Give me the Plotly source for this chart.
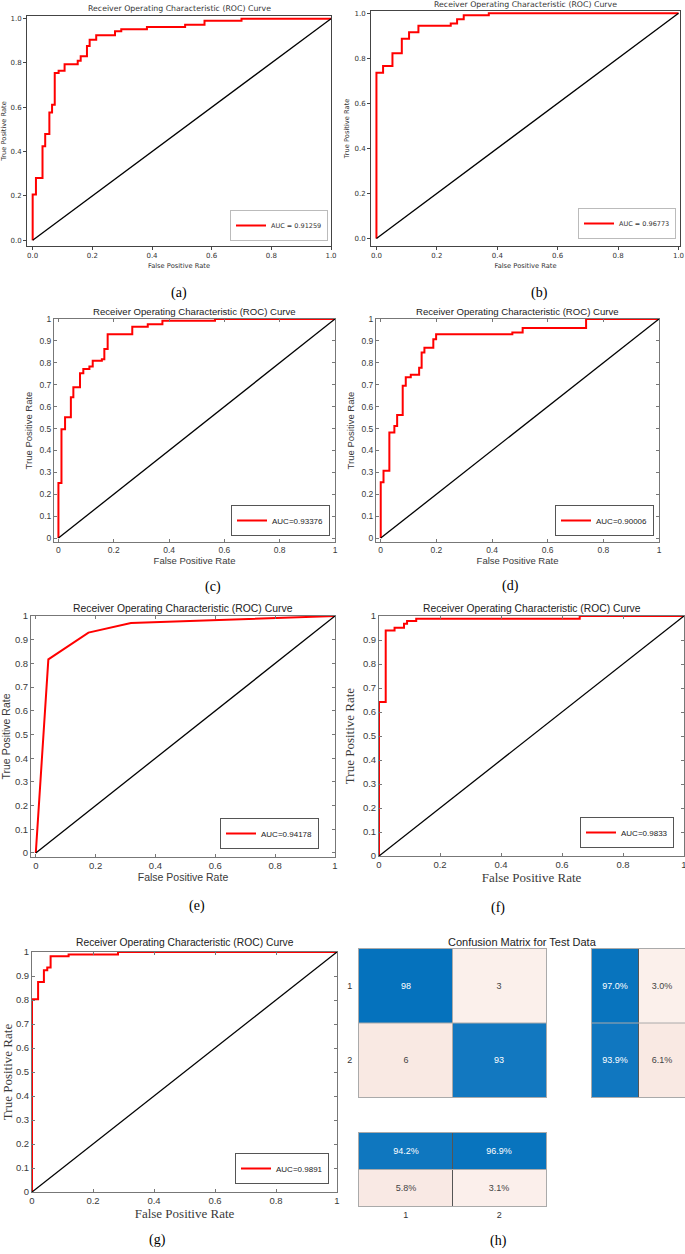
import plotly.graph_objects as go

W, H = 685, 1254

# ROC curves: false positive rate / true positive rate
fpr_a = [0, 0, 0.011, 0.033, 0.042, 0.056, 0.065, 0.074, 0.087, 0.107, 0.151, 0.161,
         0.182, 0.191, 0.213, 0.276, 0.297, 0.383, 0.511, 0.576, 0.70, 1.0]
tpr_a = [0, 0.206, 0.281, 0.424, 0.48, 0.576, 0.612, 0.755, 0.765, 0.794, 0.81, 0.83,
         0.877, 0.905, 0.925, 0.943, 0.952, 0.962, 0.973, 0.99, 1.0, 1.0]

fpr_b = [0, 0, 0.022, 0.053, 0.084, 0.108, 0.139, 0.246, 0.267, 0.289, 0.372, 1.0]
tpr_b = [0, 0.736, 0.766, 0.822, 0.887, 0.916, 0.944, 0.954, 0.973, 0.991, 1.0, 1.0]

fpr_c = [0, 0, 0.011, 0.024, 0.045, 0.054, 0.078, 0.09, 0.112, 0.124, 0.157, 0.166,
         0.178, 0.267, 0.323, 0.376, 0.566, 1.0]
tpr_c = [0, 0.251, 0.497, 0.552, 0.643, 0.688, 0.752, 0.772, 0.783, 0.809, 0.816, 0.863,
         0.930, 0.965, 0.976, 0.992, 1.0, 1.0]

fpr_d = [0, 0, 0.01, 0.031, 0.049, 0.059, 0.079, 0.09, 0.108, 0.138, 0.147, 0.157,
         0.189, 0.199, 0.473, 0.51, 0.738, 1.0]
tpr_d = [0, 0.255, 0.307, 0.482, 0.512, 0.562, 0.695, 0.734, 0.746, 0.778, 0.847, 0.869,
         0.907, 0.930, 0.938, 0.959, 1.0, 1.0]

fpr_e = [0, 0.042, 0.176, 0.318, 1.0]
tpr_e = [0, 0.817, 0.93, 0.97, 1.0]

fpr_f = [0, 0, 0.022, 0.051, 0.082, 0.092, 0.122, 0.658, 1.0]
tpr_f = [0, 0.642, 0.94, 0.951, 0.968, 0.979, 0.989, 1.0, 1.0]

fpr_g = [0, 0, 0.02, 0.039, 0.05, 0.061, 0.12, 0.282, 1.0]
tpr_g = [0, 0.803, 0.875, 0.924, 0.935, 0.982, 0.99, 1.0, 1.0]

auc_labels = ["AUC = 0.91259", "AUC = 0.96773", "AUC=0.93376", "AUC=0.90006",
              "AUC=0.94178", "AUC=0.9833", "AUC=0.9891"]
chance = [0, 1]

# confusion matrix for the test data, panel (h)
classes = ["1", "2"]
cm_counts = [[98, 3], [6, 93]]
cm_row_pct = [[97.0, 3.0], [93.9, 6.1]]
cm_col_pct = [[94.2, 96.9], [5.8, 3.1]]

panel_letters = ["(a)", "(b)", "(c)", "(d)", "(e)", "(f)", "(g)", "(h)"]

MPL = "DejaVu Sans"
SANS = "Liberation Sans, Arial, sans-serif"
SERIF = "Liberation Serif, Times New Roman, serif"
ROC_TITLE = "Receiver Operating Characteristic (ROC) Curve"


def xdom(left, right):
    return [left / W, min(right / W, 1.0)]


def ydom(top, bottom):
    return [1 - bottom / H, 1 - top / H]


# box = (left, top, right, bottom) in pixels
panels = [
    dict(fpr=fpr_a, tpr=tpr_a, shape="hv", style="mpl", box=(27, 16, 331, 246),
         xr=[-0.019, 1.0], yr=[-0.026, 1.012], title_y=9, leg=(328, 241)),
    dict(fpr=fpr_b, tpr=tpr_b, shape="hv", style="mpl", box=(371, 11, 680, 246),
         xr=[-0.018, 1.005], yr=[-0.033, 1.01], title_y=4.5, leg=(676, 239)),
    dict(fpr=fpr_c, tpr=tpr_c, shape="hv", style="matlab", box=(54, 319, 335, 542),
         xr=[-0.016, 1], yr=[-0.018, 1], title_y=312, leg=(330, 536), fs=8.5, tfs=9.6),
    dict(fpr=fpr_d, tpr=tpr_d, shape="hv", style="matlab", box=(376, 319, 659, 542),
         xr=[-0.017, 1], yr=[-0.018, 1], title_y=312, leg=(654, 536), fs=8.5, tfs=9.6),
    dict(fpr=fpr_e, tpr=tpr_e, shape="linear", style="matlab", box=(31, 616, 335, 857),
         xr=[-0.016, 1], yr=[-0.017, 1], title_y=608, leg=(319, 849), fs=9.5, tfs=10.4),
    dict(fpr=fpr_f, tpr=tpr_f, shape="hv", style="serif", box=(379, 616, 684, 856),
         xr=[0, 1], yr=[0, 1], title_y=608, leg=(674, 848), fs=9.5, tfs=10.3),
    dict(fpr=fpr_g, tpr=tpr_g, shape="hv", style="serif", box=(32, 952, 337, 1192),
         xr=[0, 1], yr=[0, 1], title_y=943, leg=(329, 1184), fs=9.5, tfs=10.3),
]

fig = go.Figure()
layout = {}
annotations = []

for i, p in enumerate(panels):
    n = i + 1
    sfx = "" if n == 1 else str(n)
    leg = "legend" + sfx
    fig.add_trace(go.Scatter(
        x=p["fpr"], y=p["tpr"], mode="lines", line=dict(color="#ff0000", width=2, shape=p["shape"]),
        name=auc_labels[i], xaxis="x" + sfx, yaxis="y" + sfx, legend=leg))
    fig.add_trace(go.Scatter(
        x=chance, y=chance, mode="lines", line=dict(color="black", width=1.3),
        showlegend=False, xaxis="x" + sfx, yaxis="y" + sfx))

    left, top, right, bottom = p["box"]
    if p["style"] == "mpl":
        tick_font = dict(family=MPL, size=7, color="#333")
        lab_font = dict(family=MPL, size=6.7, color="#333")
        common = dict(showline=True, linecolor="#444", linewidth=1, mirror=True,
                      ticks="outside", ticklen=3, tickwidth=0.8, tickcolor="#444",
                      tickvals=[0, 0.2, 0.4, 0.6, 0.8, 1.0], tickformat=".1f",
                      tickfont=tick_font, showgrid=False, zeroline=False,
                      ticklabeloverflow="allow")
        xax = dict(common, domain=xdom(left, right), range=p["xr"], anchor="y" + sfx,
                   title=dict(text="False Positive Rate", font=lab_font, standoff=3))
        yax = dict(common, domain=ydom(top, bottom), range=p["yr"], anchor="x" + sfx,
                   title=dict(text="True Positive Rate", font=lab_font, standoff=4))
        title_font = dict(family=MPL, size=7.8, color="#333")
        leg_font = dict(family=MPL, size=6.5, color="#333")
        leg_border = "#bbb"
    else:
        fs = p["fs"]
        tick_font = dict(family=SANS, size=fs, color="#3a3a3a")
        if p["style"] == "serif":
            lab_font = dict(family=SERIF, size=13, color="#3a3a3a")
        else:
            lab_font = dict(family=SANS, size=fs + 1, color="#3a3a3a")
        common = dict(showline=True, linecolor="#777", linewidth=1, mirror="ticks",
                      ticks="inside", ticklen=3, tickwidth=0.8, tickcolor="#777",
                      tickfont=tick_font, showgrid=False, zeroline=False,
                      ticklabeloverflow="allow")
        xax = dict(common, domain=xdom(left, right), range=p["xr"], anchor="y" + sfx,
                   tickvals=[0, 0.2, 0.4, 0.6, 0.8, 1],
                   title=dict(text="False Positive Rate", font=lab_font, standoff=3))
        yax = dict(common, domain=ydom(top, bottom), range=p["yr"], anchor="x" + sfx,
                   tick0=0, dtick=0.1,
                   title=dict(text="True Positive Rate", font=lab_font, standoff=5))
        title_font = dict(family=SANS, size=p["tfs"], color="#222")
        leg_font = dict(family=SANS, size=8, color="#222")
        leg_border = "#555"

    layout["xaxis" + sfx] = xax
    layout["yaxis" + sfx] = yax
    lx, ly = p["leg"]
    layout[leg] = dict(x=lx / W, y=1 - ly / H, xanchor="right", yanchor="bottom",
                       bgcolor="white", bordercolor=leg_border, borderwidth=1,
                       font=leg_font, itemwidth=30, tracegroupgap=0)
    annotations.append(dict(text=ROC_TITLE, x=(left + right) / 2 / W, y=1 - p["title_y"] / H,
                            xref="paper", yref="paper", xanchor="center", yanchor="middle",
                            showarrow=False, font=title_font))

# ---- panel (h): confusion matrix with row / column summaries ----
CM_SCALE = [[0.0, "#f0c8b8"], [0.47, "#f9e9e3"], [0.5, "#fdf6f3"],
            [0.5, "#d7e8f5"], [0.95, "#1a7cc2"], [1.0, "#0070bc"]]


def signed(values, diag_mask):
    return [[v if d else -v for v, d in zip(row, drow)] for row, drow in zip(values, diag_mask)]


cm_z = signed(cm_counts, [[True, False], [False, True]])
row_z = signed(cm_row_pct, [[True, False], [True, False]])
col_z = signed(cm_col_pct, [[True, True], [False, False]])

cm_panels = [
    ("8", cm_z, [[str(v) for v in r] for r in cm_counts], (359, 949, 546, 1097)),
    ("9", row_z, [[f"{v:.1f}%" for v in r] for r in cm_row_pct], (592, 949, 685, 1097)),
    ("10", col_z, [[f"{v:.1f}%" for v in r] for r in cm_col_pct], (359, 1133, 546, 1206)),
]
shapes = []
for sfx, z, txt, (left, top, right, bottom) in cm_panels:
    fig.add_trace(go.Heatmap(
        z=z, x=classes, y=classes, text=txt, texttemplate="%{text}",
        textfont=dict(family=SANS, size=9), colorscale=CM_SCALE, zmin=-100, zmax=100,
        showscale=False, xaxis="x" + sfx, yaxis="y" + sfx, hoverinfo="skip"))
    layout["xaxis" + sfx] = dict(domain=xdom(left, right), anchor="y" + sfx, type="category",
                                 showline=True, linecolor="#aaa", mirror=True, ticks="",
                                 showgrid=False, zeroline=False,
                                 showticklabels=(sfx == "10"),
                                 tickfont=dict(family=SANS, size=9, color="#333"))
    layout["yaxis" + sfx] = dict(domain=ydom(top, bottom), anchor="x" + sfx, type="category",
                                 autorange="reversed", showline=True, linecolor="#aaa",
                                 mirror=True, ticks="", showgrid=False, zeroline=False,
                                 showticklabels=(sfx == "8"), ticklabelstandoff=4,
                                 tickfont=dict(family=SANS, size=9, color="#333"))
    # cell borders at the category boundaries
    for k in range(1, len(classes)):
        vcol = "#555" if sfx in ("9", "10") else "#aaa"
        shapes.append(dict(type="line", xref="x" + sfx, yref="y" + sfx + " domain",
                           x0=k - 0.5, x1=k - 0.5, y0=0, y1=1, line=dict(color=vcol, width=1)))
        shapes.append(dict(type="line", xref="x" + sfx + " domain", yref="y" + sfx,
                           x0=0, x1=1, y0=k - 0.5, y1=k - 0.5, line=dict(color="#aaa", width=1)))

annotations.append(dict(text="Confusion Matrix for Test Data", x=522 / W, y=1 - 942 / H,
                        xref="paper", yref="paper", xanchor="center", yanchor="middle",
                        showarrow=False, font=dict(family=SANS, size=11, color="#222")))

letter_pos = [(179, 293), (539, 293), (213, 587), (510, 586), (197, 906), (498, 908),
              (157, 1240), (499, 1241)]
for letter, (lx, ly) in zip(panel_letters, letter_pos):
    annotations.append(dict(text=letter, x=lx / W, y=1 - ly / H, xref="paper", yref="paper",
                            xanchor="center", yanchor="middle", showarrow=False,
                            font=dict(family=SERIF, size=14, color="black")))

fig.update_layout(
    template="none",
    width=W, height=H,
    margin=dict(l=0, r=0, t=0, b=0),
    paper_bgcolor="white", plot_bgcolor="white",
    annotations=annotations, shapes=shapes,
    **layout,
)

# drop the browser's default page margin so the figure sits at the window's corner
fig.write_html("out.html", config={"displayModeBar": False},
               post_script="document.body.style.margin = '0';")
